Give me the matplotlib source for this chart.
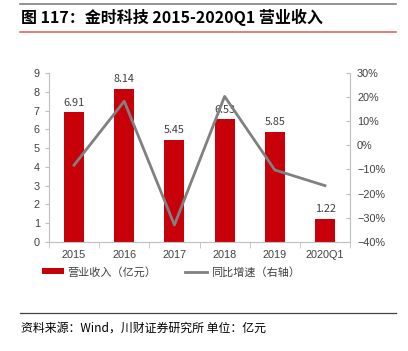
import numpy as np
import matplotlib.pyplot as plt
from matplotlib.lines import Line2D

plt.rcParams['font.family'] = ['Noto Sans CJK SC', 'DejaVu Sans']

# data
years = ['2015', '2016', '2017', '2018', '2019', '2020Q1']
revenue = [6.91, 8.14, 5.45, 6.53, 5.85, 1.22]
growth = [-8.2, 18.3, -33.0, 20.3, -10.2, -16.7]  # percent

bar_color = '#C8000A'
line_color = '#808080'
axis_color = '#BFBFBF'
text_color = '#404040'
tick_font = 'Liberation Sans'

fig = plt.figure(figsize=(4.08, 3.51), dpi=100)

# header / footer rules
fig.add_artist(Line2D([0.05, 0.97], [0.988, 0.988], color='#808080', lw=1.2))
fig.add_artist(Line2D([0.05, 0.97], [0.908, 0.908], color='#E06666', lw=1.2))
fig.add_artist(Line2D([0.05, 0.97], [0.108, 0.108], color='#404040', lw=0.9))
fig.text(0.052, 0.950, '图 117：金时科技 2015-2020Q1 营业收入', fontsize=11.5,
         fontweight='bold', va='center', ha='left', color='black')
fig.text(0.052, 0.065, '资料来源：Wind，川财证券研究所 单位：亿元', fontsize=8.6,
         va='center', ha='left', color='black', style='italic')

ax = fig.add_axes([0.120, 0.311, 0.738, 0.481])
x = np.arange(len(years))
bars = ax.bar(x, revenue, width=0.4, color=bar_color, label='营业收入（亿元）', zorder=2)
for xi, v in zip(x, revenue):
    ax.text(xi, v + 0.25, f'{v:.2f}', ha='center', va='bottom', fontsize=7.8, color=text_color)

ax.set_xlim(-0.5, len(years) - 0.5)
ax.set_ylim(0, 9)
ax.set_yticks(range(0, 10))
ax.set_xticks(x)
ax.set_xticklabels(years, family=tick_font)
ax.set_yticklabels([str(t) for t in range(0, 10)], family=tick_font)
ax.set_xticks(np.arange(-0.5, len(years)), minor=True)
ax.tick_params(axis='x', which='major', length=0, labelsize=7.8, colors=text_color, pad=6)
ax.tick_params(axis='x', which='minor', length=4, color=axis_color, direction='out')
ax.tick_params(axis='y', length=3, color=axis_color, labelsize=7.8, labelcolor=text_color)
for s in ['top', 'right']:
    ax.spines[s].set_visible(False)
ax.spines['left'].set_color(axis_color)
ax.spines['bottom'].set_color(axis_color)

ax2 = ax.twinx()
ax2.plot(x, growth, color=line_color, lw=2, label='同比增速（右轴）', zorder=3)
ax2.set_ylim(-40, 30)
ax2.set_yticks(range(-40, 31, 10))
ax2.set_yticklabels([f'{t}%'.replace('-', '−') for t in range(-40, 31, 10)], family=tick_font)
ax2.tick_params(axis='y', length=3, color=axis_color, direction='in', labelsize=7.8,
                labelcolor=text_color, pad=5)
for s in ['top', 'left', 'bottom']:
    ax2.spines[s].set_visible(False)
ax2.spines['right'].set_color(axis_color)

h1, l1 = ax.get_legend_handles_labels()
h2, l2 = ax2.get_legend_handles_labels()
fig.legend(h1 + h2, l1 + l2, loc='center', bbox_to_anchor=(0.418, 0.225), ncol=2,
           frameon=False, fontsize=8, handlelength=2.0, handleheight=0.45,
           handletextpad=0.3, columnspacing=2.6, labelcolor=text_color)

fig.savefig('out.png', dpi=100)
